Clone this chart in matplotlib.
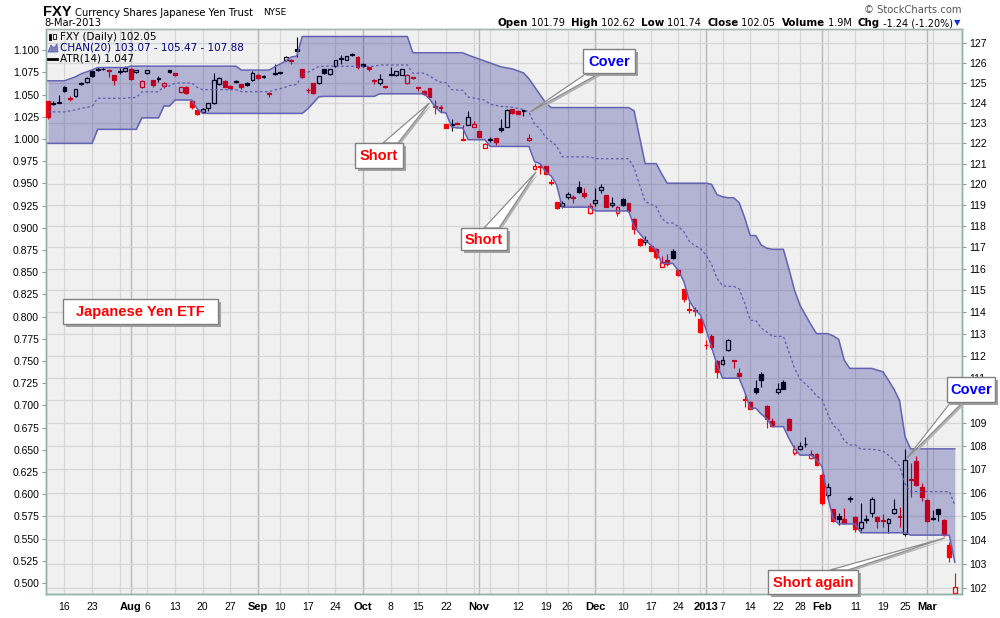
import numpy as np
import pandas as pd
import matplotlib
matplotlib.use('Agg')
import matplotlib.pyplot as plt
from matplotlib.patches import Polygon, Rectangle
from matplotlib.ticker import FixedLocator, FuncFormatter, NullLocator

plt.rcParams['font.family'] = ['Liberation Sans', 'DejaVu Sans']

# trading days on the chart (NYSE closed on these)
holidays = ['2012-09-03', '2012-10-29', '2012-10-30', '2012-11-22',
            '2012-12-25', '2013-01-01', '2013-01-21', '2013-02-18']
dates = pd.bdate_range('2012-07-11', '2013-03-08').drop(pd.to_datetime(holidays))

# FXY daily OHLC
open_ = [124.07, 123.95, 124.00, 124.80, 124.22, 124.35, 124.95, 125.02, 125.60, 125.65,
         125.70, 125.65, 125.38, 125.55, 125.58, 125.70, 125.52, 124.77, 125.47, 125.13,
         125.20, 124.83, 125.63, 125.50, 124.52, 124.80, 124.10, 123.63, 123.55, 123.75,
         123.98, 124.94, 125.10, 124.85, 125.03, 124.94, 125.00, 125.13, 125.38, 125.28,
         124.48, 125.45, 125.50, 126.13, 126.15, 126.73, 125.68, 124.66, 124.98, 124.98,
         125.68, 125.43, 125.83, 126.20, 126.17, 126.47, 126.30, 125.97, 125.78, 125.12,
         124.97, 124.82, 125.40, 125.38, 125.40, 124.97, 125.27, 124.78, 124.60, 124.72,
         123.82, 123.80, 122.93, 122.90, 123.00, 122.22, 122.90, 122.80, 122.60, 121.77,
         122.15, 122.23, 122.77, 122.80, 123.68, 123.60, 123.60, 122.15, 120.73, 120.87,
         120.87, 120.12, 119.13, 118.97, 119.40, 119.40, 119.85, 119.60, 118.60, 119.08,
         119.70, 119.47, 119.02, 118.60, 119.27, 119.10, 118.35, 117.40, 117.25, 117.05,
         116.91, 116.08, 116.41, 116.80, 115.95, 115.03, 114.12, 114.08, 113.68, 112.50,
         112.89, 111.76, 111.64, 112.26, 111.80, 111.24, 110.05, 109.95, 110.57, 111.18,
         109.76, 109.09, 110.37, 110.84, 109.18, 107.71, 107.88, 108.07, 107.47, 107.66,
         106.75, 105.90, 105.29, 105.00, 104.87, 105.74, 104.97, 104.50, 104.82, 105.15,
         104.97, 104.83, 104.73, 105.15, 104.99, 104.25, 106.60, 107.37, 106.22, 105.68,
         104.86, 105.29, 104.84, 103.78, 101.79]
high = [124.10, 124.10, 124.40, 124.85, 124.35, 124.70, 125.05, 125.30, 125.60, 125.80,
        125.80, 125.70, 125.40, 125.75, 125.85, 125.75, 125.65, 125.12, 125.65, 125.15,
        125.35, 125.05, 125.65, 125.50, 124.80, 124.82, 124.15, 123.65, 123.72, 124.00,
        125.50, 125.30, 125.12, 124.90, 125.12, 124.96, 125.02, 125.60, 125.42, 125.38,
        124.55, 125.95, 125.55, 126.35, 126.20, 127.35, 125.70, 124.75, 125.00, 125.35,
        125.70, 125.72, 126.15, 126.40, 126.35, 126.52, 126.35, 126.00, 125.80, 125.20,
        125.45, 124.85, 125.80, 125.62, 125.70, 125.45, 125.30, 124.80, 124.62, 124.75,
        124.15, 123.90, 122.95, 123.20, 123.02, 122.90, 123.60, 123.10, 122.62, 122.00,
        122.30, 122.25, 123.20, 123.68, 123.70, 123.62, 123.62, 122.45, 121.05, 121.00,
        120.90, 120.25, 119.15, 119.20, 119.65, 119.50, 120.15, 119.80, 119.10, 119.80,
        120.00, 119.50, 119.40, 118.95, 119.35, 119.12, 118.40, 117.45, 117.55, 117.10,
        116.95, 116.60, 116.70, 116.90, 115.98, 115.05, 114.43, 114.20, 113.70, 112.69,
        112.97, 111.80, 112.00, 112.75, 111.82, 111.47, 110.30, 109.97, 110.91, 111.28,
        109.80, 109.24, 110.77, 110.91, 109.22, 108.04, 108.18, 108.41, 107.83, 107.68,
        106.84, 106.40, 105.32, 105.13, 105.33, 105.85, 105.00, 105.56, 105.04, 105.82,
        105.00, 105.11, 104.90, 105.72, 105.40, 107.88, 107.28, 107.56, 106.40, 105.72,
        105.24, 105.32, 104.88, 103.90, 102.62]
low = [123.20, 123.90, 123.98, 124.55, 124.10, 124.30, 124.90, 125.00, 125.30, 125.60,
       125.65, 125.30, 124.90, 125.45, 125.55, 125.15, 125.50, 124.75, 125.45, 124.77,
       125.05, 124.73, 125.50, 125.35, 124.50, 124.45, 123.70, 123.40, 123.50, 123.60,
       123.95, 124.90, 124.78, 124.70, 125.00, 124.67, 124.86, 125.10, 125.20, 125.22,
       124.30, 125.40, 125.45, 126.10, 125.95, 126.30, 125.25, 124.47, 124.45, 124.95,
       125.45, 125.40, 125.80, 125.95, 126.15, 126.35, 125.70, 125.78, 125.62, 124.95,
       124.90, 124.75, 125.38, 125.35, 125.38, 124.95, 125.20, 124.60, 124.40, 124.25,
       123.45, 123.50, 122.75, 122.60, 122.93, 122.15, 122.88, 122.78, 122.28, 121.75,
       122.05, 121.92, 122.55, 122.78, 123.45, 123.42, 123.35, 122.13, 120.70, 120.50,
       120.50, 119.95, 118.80, 118.85, 119.30, 119.10, 119.60, 119.35, 118.58, 118.95,
       119.60, 118.90, 118.90, 118.50, 118.95, 118.70, 117.60, 117.05, 117.10, 116.80,
       116.45, 116.05, 116.10, 116.45, 115.65, 114.45, 113.95, 113.80, 113.05, 112.30,
       112.29, 110.99, 111.57, 112.20, 111.43, 111.04, 109.72, 109.61, 110.30, 110.62,
       108.78, 108.84, 110.30, 110.49, 108.70, 107.60, 107.83, 107.95, 107.45, 107.14,
       105.47, 105.70, 104.74, 104.64, 104.68, 105.58, 104.32, 104.36, 104.71, 104.97,
       104.50, 104.56, 104.30, 105.10, 104.56, 104.15, 105.80, 106.28, 105.65, 104.75,
       104.84, 104.80, 104.15, 103.07, 101.74]
close = [123.28, 124.00, 124.05, 124.60, 124.20, 124.67, 125.00, 125.22, 125.35, 125.70,
         125.72, 125.62, 125.13, 125.60, 125.77, 125.17, 125.63, 125.10, 125.63, 124.88,
         125.25, 125.00, 125.55, 125.37, 124.77, 124.47, 123.80, 123.43, 123.68, 123.98,
         125.13, 125.22, 124.80, 124.72, 125.07, 124.77, 124.88, 125.47, 125.22, 125.32,
         124.46, 125.50, 125.52, 126.30, 126.12, 126.60, 125.27, 124.62, 124.50, 125.33,
         125.47, 125.68, 126.13, 126.25, 126.33, 126.40, 125.80, 125.85, 125.68, 125.08,
         125.17, 124.80, 125.45, 125.60, 125.68, 125.38, 125.24, 124.75, 124.42, 124.30,
         123.78, 123.75, 122.77, 122.95, 122.93, 122.18, 123.27, 122.93, 122.30, 121.98,
         122.20, 122.06, 122.63, 123.63, 123.47, 123.45, 123.62, 122.27, 120.90, 120.85,
         120.52, 120.08, 118.85, 119.10, 119.55, 119.35, 119.62, 119.43, 118.97, 119.22,
         119.85, 118.93, 119.08, 118.93, 118.98, 118.73, 117.85, 117.10, 117.32, 116.82,
         116.53, 116.30, 116.23, 116.48, 115.70, 114.60, 114.08, 114.05, 113.09, 112.48,
         112.38, 111.28, 111.81, 112.71, 111.76, 111.09, 110.00, 109.64, 110.39, 110.91,
         109.17, 108.88, 110.51, 110.53, 108.72, 107.87, 108.00, 108.11, 107.64, 107.17,
         105.54, 106.25, 104.81, 104.87, 104.72, 105.78, 104.46, 104.77, 104.86, 105.72,
         104.81, 104.79, 104.87, 105.29, 104.95, 107.40, 106.55, 106.33, 105.82, 104.80,
         104.90, 105.10, 104.19, 103.29, 102.05]
close_before = 124.30   # close of the session before the first candle

# CHAN(20) upper / lower band
chan_upper = [125.10, 125.10, 125.10, 125.10, 125.20, 125.30, 125.45, 125.55, 125.65, 125.77,
              125.77, 125.77, 125.77, 125.77, 125.77, 125.84, 125.84, 125.84, 125.84, 125.84,
              125.84, 125.84, 125.84, 125.84, 125.84, 125.84, 125.84, 125.84, 125.84, 125.84,
              125.84, 125.84, 125.84, 125.84, 125.84, 125.64, 125.64, 125.64, 125.64, 125.64,
              125.64, 125.80, 125.95, 126.10, 126.30, 126.35, 127.35, 127.35, 127.35, 127.35,
              127.35, 127.35, 127.35, 127.35, 127.35, 127.35, 127.35, 127.35, 127.35, 127.35,
              127.35, 127.35, 127.35, 127.35, 127.35, 127.35, 126.52, 126.52, 126.52, 126.52,
              126.52, 126.52, 126.52, 126.52, 126.52, 126.52, 126.40, 126.30, 126.20, 126.10,
              126.00, 125.90, 125.80, 125.75, 125.70, 125.60, 125.50, 125.20, 124.80, 124.40,
              124.00, 123.76, 123.76, 123.76, 123.76, 123.76, 123.76, 123.76, 123.76, 123.76,
              123.76, 123.76, 123.76, 123.76, 123.76, 123.76, 123.60, 122.30, 121.00, 121.00,
              121.00, 120.50, 120.05, 120.05, 120.05, 120.05, 120.05, 120.05, 120.05, 120.05,
              120.00, 119.50, 119.40, 119.35, 119.35, 119.12, 118.40, 117.55, 117.55, 117.10,
              116.95, 116.90, 116.90, 116.90, 115.98, 115.00, 114.30, 113.85, 113.40, 113.00,
              113.00, 113.00, 112.90, 112.74, 111.80, 111.43, 111.43, 111.43, 111.43, 111.43,
              111.35, 111.28, 110.90, 110.50, 110.00, 108.41, 107.88, 107.88, 107.88, 107.88,
              107.88, 107.88, 107.88, 107.88, 107.88]
chan_lower = [121.99, 121.99, 121.99, 121.99, 121.99, 121.99, 121.99, 121.99, 121.99, 122.68,
              122.68, 122.68, 122.68, 122.68, 122.68, 122.68, 122.68, 123.25, 123.25, 123.25,
              123.25, 123.84, 123.84, 124.14, 124.14, 124.14, 124.14, 123.70, 123.47, 123.47,
              123.47, 123.47, 123.47, 123.47, 123.47, 123.47, 123.47, 123.47, 123.47, 123.47,
              123.47, 123.47, 123.47, 123.47, 123.47, 123.47, 123.47, 123.70, 124.00, 124.30,
              124.32, 124.32, 124.32, 124.32, 124.32, 124.32, 124.32, 124.32, 124.32, 124.32,
              124.45, 124.45, 124.45, 124.45, 124.45, 124.45, 124.45, 124.45, 124.45, 124.20,
              123.80, 123.54, 123.49, 122.80, 122.75, 122.75, 122.17, 122.17, 122.17, 122.17,
              121.84, 121.84, 121.84, 121.84, 121.84, 121.84, 121.84, 121.84, 121.10, 121.00,
              120.60, 120.40, 119.97, 118.90, 118.90, 118.90, 118.90, 118.90, 118.90, 118.72,
              118.72, 118.72, 118.72, 118.72, 118.72, 118.72, 118.00, 117.65, 117.33, 117.10,
              116.86, 116.24, 116.24, 116.24, 115.90, 115.40, 114.50, 114.08, 113.85, 113.20,
              112.40, 111.60, 110.99, 110.99, 110.99, 110.99, 110.39, 109.66, 109.66, 109.40,
              109.20, 108.85, 108.85, 108.85, 108.34, 107.90, 107.61, 107.61, 107.61, 107.40,
              107.11, 105.83, 104.90, 104.67, 104.67, 104.67, 104.67, 104.30, 104.30, 104.30,
              104.30, 104.30, 104.30, 104.30, 104.30, 104.30, 104.20, 104.20, 104.20, 104.20,
              104.20, 104.20, 104.20, 104.20, 103.07]

atr_last = 1.047
volume_label = '1.9M'

# dated x labels along the bottom
tick_days = ['2012-07-16', '2012-07-23', '2012-08-01', '2012-08-06', '2012-08-13', '2012-08-20',
             '2012-08-27', '2012-09-04', '2012-09-10', '2012-09-17', '2012-09-24', '2012-10-01',
             '2012-10-08', '2012-10-15', '2012-10-22', '2012-11-01', '2012-11-12', '2012-11-19',
             '2012-11-26', '2012-12-03', '2012-12-10', '2012-12-17', '2012-12-24', '2013-01-02',
             '2013-01-07', '2013-01-14', '2013-01-22', '2013-01-28', '2013-02-01', '2013-02-11',
             '2013-02-19', '2013-02-25', '2013-03-01']
tick_text = ['16', '23', 'Aug', '6', '13', '20', '27', 'Sep', '10', '17', '24', 'Oct',
             '8', '15', '22', 'Nov', '12', '19', '26', 'Dec', '10', '17', '24', '2013',
             '7', '14', '22', '28', 'Feb', '11', '19', '25', 'Mar']
price_ticks = list(range(102, 128))
atr_ticks = [round(1.1 - 0.025 * k, 3) for k in range(25)]

# ---------------------------------------------------------------------------
W, H = 1000, 618
fig = plt.figure(figsize=(10, 6.18), dpi=100)
fig.patch.set_facecolor('white')


def fx(px):
    return px / W


def fy(py):
    return 1 - py / H


ax_atr = fig.add_axes([fx(46), fy(594), fx(962) - fx(46), fy(29.3) - fy(594)])
ax = ax_atr.twinx()
ax_atr.set_facecolor('#f0f0f0')
ax.patch.set_visible(False)

x = np.arange(len(dates))
ax_atr.set_xlim(-0.34, 165.3)
ax_atr.set_ylim(0.4877, 1.1236)
ax.set_yscale('log')
ax.set_ylim(101.76, 127.72)

# grid
idx = pd.Series(x, index=dates)
week_first = idx.groupby([dates.isocalendar().year.values, dates.isocalendar().week.values]).min().values
month_first = idx.groupby([dates.year, dates.month]).min().values
for p in week_first[1:]:
    ax.axvline(p, color='#d6d6d6', lw=0.9, zorder=1)
for p in month_first[1:]:
    ax.axvline(p, color='#b8b8b8', lw=1.0, zorder=1)
for p in price_ticks:
    ax.axhline(p, color='#d6d6d6', lw=0.9, zorder=1)

# candles
o, hi, lo, c = map(np.array, (open_, high, low, close))
prev = np.r_[close_before, c[:-1]]
col = np.where(c < prev, '#ff0000', '#000000')
top = np.maximum(o, c)
bot = np.minimum(o, c)
face = [cc if f else 'none' for cc, f in zip(col, c < o)]
ax.vlines(x, top, hi, colors=col, lw=0.8, zorder=3)
ax.vlines(x, lo, bot, colors=col, lw=0.8, zorder=3)
ax.bar(x, top - bot, bottom=bot, width=0.7, color=face, edgecolor=col,
       linewidth=0.9, zorder=3)

# Donchian channel
up = np.array(chan_upper)
dn = np.array(chan_lower)
mid = (up + dn) / 2
ax.fill_between(x, dn, up, color='#000080', alpha=0.25, lw=0, zorder=5)
ax.plot(x, up, color='#6262b4', lw=1.1, zorder=6)
ax.plot(x, dn, color='#6262b4', lw=1.1, zorder=6)
ax.plot(x, mid, color='#5a5aae', lw=0.9, ls=(0, (2, 2)), zorder=6)

# axes formatting
ax.yaxis.set_major_locator(FixedLocator(price_ticks))
ax.yaxis.set_major_formatter(FuncFormatter(lambda v, _: f'{v:.0f}'))
ax.yaxis.set_minor_locator(NullLocator())
ax.tick_params(axis='y', which='major', length=3, width=0.8, color='#8a9a98',
               labelsize=7.5, pad=2)
ax_atr.set_yticks(atr_ticks)
ax_atr.yaxis.set_major_formatter(FuncFormatter(lambda v, _: f'{v:.3f}'))
ax_atr.tick_params(axis='y', length=3, width=0.8, color='#8a9a98', labelsize=7.5, pad=2)

tick_pos = [idx[pd.Timestamp(d)] for d in tick_days]
ax_atr.set_xticks(tick_pos)
ax_atr.set_xticklabels(tick_text)
ax_atr.tick_params(axis='x', length=0, labelsize=7.5, pad=6)
for t in ax_atr.get_xticklabels():
    if not t.get_text().isdigit() or t.get_text() == '2013':
        t.set_fontweight('bold')
        t.set_fontsize(8)

for a in (ax_atr, ax):
    for s in ('left', 'right', 'bottom'):
        a.spines[s].set_color('#8fb0a8')
        a.spines[s].set_linestyle((0, (1, 1)))
        a.spines[s].set_linewidth(1)
    a.spines['top'].set_color('#a8b4b2')
    a.spines['top'].set_linewidth(1)

# header
fig.text(fx(43), fy(12), 'FXY', fontsize=10.5, fontweight='bold', va='center',
         family='Liberation Sans')
fig.text(fx(75), fy(12.5), 'Currency Shares Japanese Yen Trust', fontsize=7.2,
         va='center', family='DejaVu Sans')
fig.text(fx(263), fy(12.5), 'NYSE', fontsize=6.4, va='center', family='DejaVu Sans')
last = dates[-1]
fig.text(fx(44), fy(23.5), f'{last.day}-{last.strftime("%b-%Y")}', fontsize=7.2,
         va='center', family='DejaVu Sans')
fig.text(fx(962), fy(10), '\u00a9 StockCharts.com', fontsize=7.2, color='#555555',
         ha='right', va='center', family='DejaVu Sans')

chg = close[-1] - close[-2]
pieces = [('Open', True), (f' {open_[-1]:.2f}  ', False), ('High', True),
          (f' {high[-1]:.2f}  ', False), ('Low', True), (f' {low[-1]:.2f}  ', False),
          ('Close', True), (f' {close[-1]:.2f}  ', False), ('Volume', True),
          (f' {volume_label}  ', False), ('Chg', True),
          (f' {chg:.2f} ({chg / close[-2] * 100:.2f}%)', False)]
renderer = fig.canvas.get_renderer()
arts = []
for s, b in pieces:
    t = fig.text(0, fy(23), s, fontsize=7.4 if b else 7.0, va='center',
                 fontweight='bold' if b else 'normal', family='DejaVu Sans')
    arts.append(t)
widths = [t.get_window_extent(renderer).width for t in arts]
xpos = 953 - sum(widths)
for t, w in zip(arts, widths):
    t.set_x(fx(xpos))
    xpos += w
fig.text(fx(xpos + 1), fy(23), '\u25bc', fontsize=6, color='#1030e0', va='center',
         family='DejaVu Sans')

# legend inside the plot
fig.add_artist(Rectangle((fx(48.5), fy(40)), 2.5 / W, 6 / H, transform=fig.transFigure,
                         fc='black', ec='black', lw=0.6))
fig.add_artist(Rectangle((fx(53), fy(39)), 2.5 / W, 5 / H, transform=fig.transFigure,
                         fc='white', ec='black', lw=0.6))
fig.add_artist(Polygon([(fx(48), fy(52)), (fx(51), fy(45)), (fx(54), fy(48)),
                        (fx(57), fy(44)), (fx(58), fy(52))], closed=True,
                       transform=fig.transFigure, fc='#7f7fc0', ec='#6262b4', lw=0.6))
fig.add_artist(plt.Line2D([fx(48), fx(57)], [fy(58.5), fy(58.5)], color='black', lw=2,
                          transform=fig.transFigure))
fig.text(fx(60), fy(36.5), f'FXY (Daily) {close[-1]:.2f}', fontsize=7.5, va='center',
         family='DejaVu Sans')
fig.text(fx(60), fy(47.5),
         f'CHAN(20) {dn[-1]:.2f} - {(up[-1] + dn[-1]) / 2:.2f} - {up[-1]:.2f}',
         fontsize=7.5, va='center', color='#000080', family='DejaVu Sans')
fig.text(fx(60), fy(58.5), f'ATR(14) {atr_last:.3f}', fontsize=7.5, va='center',
         family='DejaVu Sans')


# call-out boxes
def to_fig(i, p):
    d = ax.transData.transform((i, p))
    return fig.transFigure.inverted().transform(d)


def callout(text, color, box, tip=None, base=None):
    l, t, r, b = box
    if tip is not None:
        tx, ty = to_fig(*tip)
        pts = [(fx(base[0][0]), fy(base[0][1])), (fx(base[1][0]), fy(base[1][1])), (tx, ty)]
        sh = [(px + 2 / W, py - 2 / H) for px, py in pts]
        fig.add_artist(Polygon(sh, closed=True, transform=fig.transFigure,
                               fc='#b4b4b4', ec='none', zorder=20))
        fig.add_artist(Polygon(pts, closed=True, transform=fig.transFigure,
                               fc='white', ec='#8c8c8c', lw=0.9, zorder=21))
    fig.add_artist(Rectangle((fx(l + 3), fy(b + 3)), (r - l) / W, (b - t) / H,
                             transform=fig.transFigure, fc='#a0a0a0', ec='none', zorder=22))
    fig.add_artist(Rectangle((fx(l), fy(b)), (r - l) / W, (b - t) / H,
                             transform=fig.transFigure, fc='white', ec='#808080',
                             lw=1, zorder=23))
    fig.text(fx((l + r) / 2), fy((t + b) / 2 + 0.5), text, color=color, fontsize=10.5,
             fontweight='bold', ha='center', va='center', zorder=24)


callout('Japanese Yen ETF', '#ff0000', (63, 299, 218, 324))
callout('Short', '#ff0000', (355, 143, 403, 168), (69, 123.99), ((383, 143), (398, 143)))
callout('Short', '#ff0000', (461, 228, 507, 250), (88.26, 120.59), ((484, 228), (499, 228)))
callout('Cover', '#0000ff', (583, 49, 635, 73), (87.2, 123.54), ((587, 73), (600, 73)))
callout('Cover', '#0000ff', (947, 377, 995, 402), (155.35, 107.48), ((951, 402), (963, 402)))
callout('Short again', '#ff0000', (768, 570, 858, 594), (162.2, 104.08),
        ((830, 570), (848, 570)))

fig.savefig('out.png', dpi=100)
